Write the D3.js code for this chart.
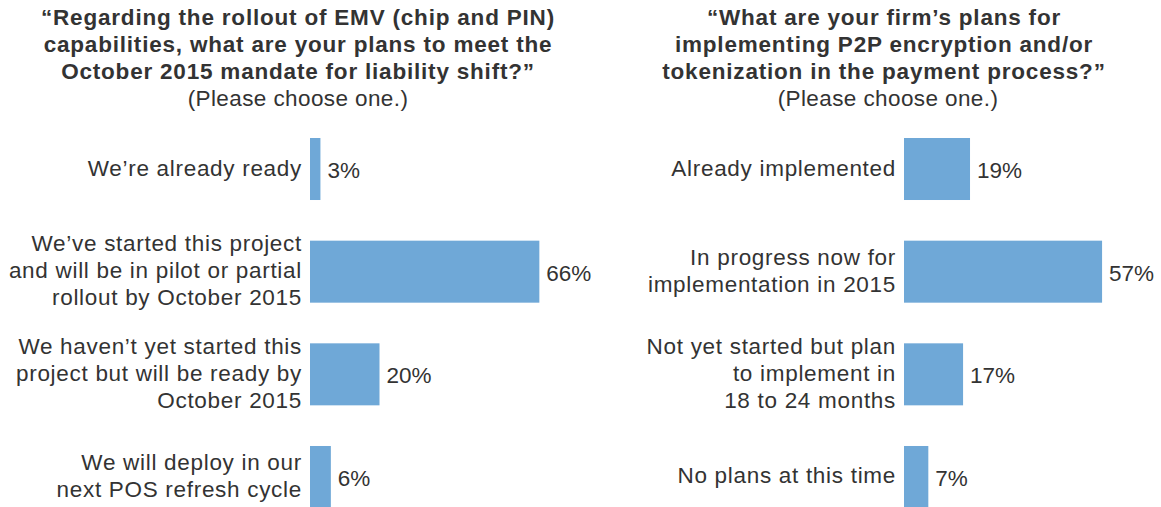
<!DOCTYPE html>
<html>
<head>
<meta charset="utf-8">
<script src="https://cdn.jsdelivr.net/npm/d3@7"></script>
<style>
  html, body { margin: 0; padding: 0; background: #fff; }
  svg { display: block; }
  text { font-family: "Liberation Sans", Arial, Helvetica, sans-serif; fill: #333; }
</style>
</head>
<body>
<svg id="chart" width="1161" height="507"></svg>
<script>
// Survey question 1: EMV rollout plans
const emvTitle = [
  "\u201CRegarding the rollout of EMV (chip and PIN)",
  "capabilities, what are your plans to meet the",
  "October 2015 mandate for liability shift?\u201D"
];
const emvCategories = [
  ["We\u2019re already ready"],
  ["We\u2019ve started this project", "and will be in pilot or partial", "rollout by October 2015"],
  ["We haven\u2019t yet started this", "project but will be ready by", "October 2015"],
  ["We will deploy in our", "next POS refresh cycle"]
];
const emvValues = [3, 66, 20, 6];

// Survey question 2: P2P encryption / tokenization plans
const p2pTitle = [
  "\u201CWhat are your firm\u2019s plans for",
  "implementing P2P encryption and/or",
  "tokenization in the payment process?\u201D"
];
const p2pCategories = [
  ["Already implemented"],
  ["In progress now for", "implementation in 2015"],
  ["Not yet started but plan", "to implement in", "18 to 24 months"],
  ["No plans at this time"]
];
const p2pValues = [19, 57, 17, 7];

const subtitle = "(Please choose one.)";

const svg = d3.select("#chart");
const barColor = "#6fa8d7";
const lineH = 27;

// shared scales for both panels
const x = d3.scaleLinear().domain([0, 100]).range([0, 347.5]);
const y = d3.scaleBand().domain(d3.range(4)).range([138, 508]).paddingInner(0.396).paddingOuter(0);

function panel(originX, titleCenter, subCenter, titleLines, categories, values) {
  const g = svg.append("g");

  const title = g.append("text")
    .attr("text-anchor", "middle")
    .style("font-size", "22.5px")
    .style("font-weight", "bold")
    .style("letter-spacing", "0.8px");
  titleLines.forEach((t, i) => {
    title.append("tspan").attr("x", titleCenter).attr("y", 25 + i * lineH).text(t);
  });
  g.append("text")
    .attr("text-anchor", "middle")
    .attr("x", subCenter)
    .attr("y", 25 + titleLines.length * lineH)
    .style("font-size", "22.5px")
    .style("letter-spacing", "0.4px")
    .text(subtitle);

  const rows = g.selectAll("g.row")
    .data(values.map((v, i) => ({ v, i, lines: categories[i] })))
    .join("g").attr("class", "row");

  rows.append("rect")
    .attr("x", originX)
    .attr("y", d => y(d.i))
    .attr("width", d => x(d.v))
    .attr("height", y.bandwidth())
    .attr("fill", barColor);

  rows.append("text")
    .attr("x", d => originX + x(d.v) + 7)
    .attr("y", d => y(d.i) + y.bandwidth() / 2 + 9)
    .style("font-size", "22.5px")
    .text(d => d.v + "%");

  rows.append("text")
    .attr("text-anchor", "end")
    .style("font-size", "22.5px")
    .style("letter-spacing", "0.7px")
    .each(function(d) {
      const cy = y(d.i) + y.bandwidth() / 2 + 6.5;
      const n = d.lines.length;
      d3.select(this).selectAll("tspan")
        .data(d.lines)
        .join("tspan")
        .attr("x", originX - 8)
        .attr("y", (t, k) => cy + (k - (n - 1) / 2) * lineH)
        .text(t => t);
    });
}

panel(310, 298, 298, emvTitle, emvCategories, emvValues);
panel(904, 884, 888, p2pTitle, p2pCategories, p2pValues);
</script>
</body>
</html>
